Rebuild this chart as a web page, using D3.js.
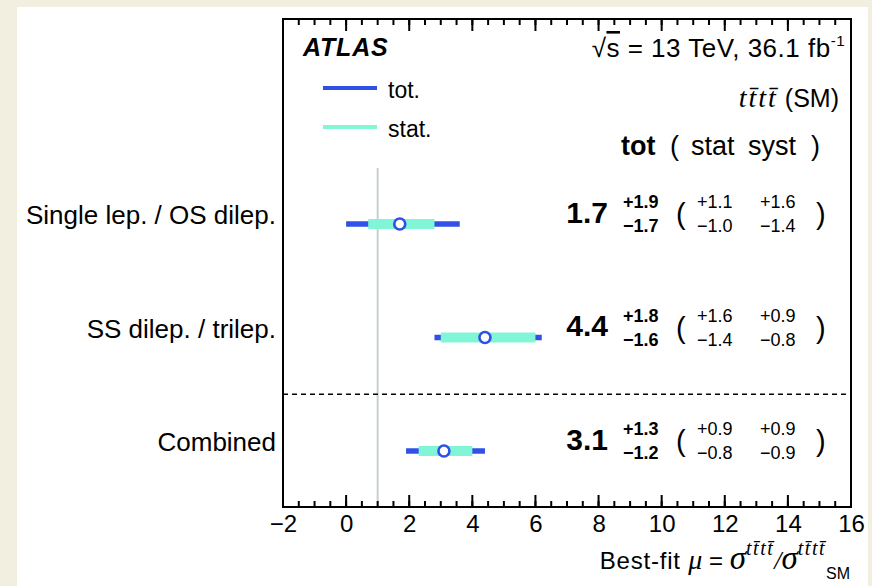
<!DOCTYPE html>
<html>
<head>
<meta charset="utf-8">
<script src="https://cdn.jsdelivr.net/npm/d3@7"></script>
<style>
  body { margin: 0; background: #f3efe0; }
  svg text { font-family: "Liberation Sans", Arial, Helvetica, sans-serif; fill: #000; }
</style>
</head>
<body>
<svg id="chart" width="872" height="586"></svg>
<script>
// data
var categories = ["Single lep. / OS dilep.", "SS dilep. / trilep.", "Combined"];
var mu = [1.7, 4.4, 3.1];
var totUp = [1.9, 1.8, 1.3];
var totDn = [1.7, 1.6, 1.2];
var statUp = [1.1, 1.6, 0.9];
var statDn = [1.0, 1.4, 0.8];
var systUp = [1.6, 0.9, 0.9];
var systDn = [1.4, 0.8, 0.9];
var majorTicks = [-2, 0, 2, 4, 6, 8, 10, 12, 14, 16];
var minorTicks = d3.range(-2, 16.01, 0.5);
var smValue = 1;

var blue = "#3050e8", aqua = "#80f6d6";

var svg = d3.select("#chart");
svg.append("rect").attr("x", 0).attr("y", 0).attr("width", 872).attr("height", 586).attr("fill", "#f3efe0");
svg.append("rect").attr("x", 17).attr("y", 7).attr("width", 851).attr("height", 579).attr("fill", "#fff");

var pl = 283, pr = 851, pt = 19, pb = 507;
var x = d3.scaleLinear().domain([-2, 16]).range([pl, pr]);
var y = d3.scaleLinear().domain([0, 2]).range([224, 451]);

var fmt = d3.format(".1f");
function signed(v, s) { return (s > 0 ? "+" : "\u2212") + fmt(v); }

// SM reference line
svg.append("line")
    .attr("x1", x(smValue)).attr("x2", x(smValue))
    .attr("y1", 168).attr("y2", pb)
    .attr("stroke", "#c8d0ce").attr("stroke-width", 2);

// separator
svg.append("line")
    .attr("x1", pl).attr("x2", pr)
    .attr("y1", y(1.5)).attr("y2", y(1.5))
    .attr("stroke", "#000").attr("stroke-width", 1.6)
    .attr("stroke-dasharray", "5,4");

// frame
svg.append("rect")
    .attr("x", pl).attr("y", pt)
    .attr("width", pr - pl).attr("height", pb - pt)
    .attr("fill", "none").attr("stroke", "#000").attr("stroke-width", 2);

// tick labels from the axis
var gB = svg.append("g").attr("transform", "translate(0," + pb + ")")
    .call(d3.axisBottom(x).tickValues(majorTicks).tickSize(0).tickFormat(d3.format("d")));
gB.select(".domain").remove();
gB.selectAll("text").attr("y", 25).attr("dy", null)
    .style("font-size", "24px").style("font-family", "Liberation Sans, Arial, sans-serif").attr("fill", "#000");

// tick marks on bottom and top edges
function tickMarks(vals, len) {
    var t = svg.append("g");
    t.selectAll("line.b").data(vals).enter().append("line")
        .attr("class", "b")
        .attr("x1", function(d) { return x(d); }).attr("x2", function(d) { return x(d); })
        .attr("y1", pb).attr("y2", pb - len)
        .style("stroke", "#000").style("stroke-width", "2px");
    t.selectAll("line.t").data(vals).enter().append("line")
        .attr("class", "t")
        .attr("x1", function(d) { return x(d); }).attr("x2", function(d) { return x(d); })
        .attr("y1", pt).attr("y2", pt + len)
        .style("stroke", "#000").style("stroke-width", "2px");
}
tickMarks(minorTicks, 6);
tickMarks(majorTicks, 12);

// rows
var rows = categories.map(function(c, i) { return i; });
var g = svg.append("g");
g.selectAll(".tot").data(rows).enter().append("line")
    .attr("x1", function(i) { return x(mu[i] - totDn[i]); })
    .attr("x2", function(i) { return x(mu[i] + totUp[i]); })
    .attr("y1", function(i) { return y(i); }).attr("y2", function(i) { return y(i); })
    .attr("stroke", blue).attr("stroke-width", 5.5);
g.selectAll(".stat").data(rows).enter().append("line")
    .attr("x1", function(i) { return x(mu[i] - statDn[i]); })
    .attr("x2", function(i) { return x(mu[i] + statUp[i]); })
    .attr("y1", function(i) { return y(i); }).attr("y2", function(i) { return y(i); })
    .attr("stroke", aqua).attr("stroke-width", 10);
g.selectAll("circle").data(rows).enter().append("circle")
    .attr("cx", function(i) { return x(mu[i]); })
    .attr("cy", function(i) { return y(i); })
    .attr("r", 5.5).attr("fill", "#fff").attr("stroke", blue).attr("stroke-width", 2.6);

// category labels
svg.selectAll(".cat").data(rows).enter().append("text")
    .attr("x", 276).attr("y", function(i) { return y(i); })
    .attr("text-anchor", "end").style("font-size", "26px")
    .text(function(i) { return categories[i]; });

// value columns
rows.forEach(function(i) {
    var yy = y(i);
    svg.append("text").attr("x", 608).attr("y", yy - 1.5).attr("text-anchor", "end")
        .style("font-size", "30px").style("font-weight", "bold").text(fmt(mu[i]));
    svg.append("text").attr("x", 623).attr("y", yy - 16).style("font-size", "18px").style("font-weight", "bold")
        .text(signed(totUp[i], 1));
    svg.append("text").attr("x", 623).attr("y", yy + 8).style("font-size", "18px").style("font-weight", "bold")
        .text(signed(totDn[i], -1));
    svg.append("text").attr("x", 676).attr("y", yy).style("font-size", "29px").text("(");
    svg.append("text").attr("x", 697).attr("y", yy - 16).style("font-size", "18px").text(signed(statUp[i], 1));
    svg.append("text").attr("x", 697).attr("y", yy + 8).style("font-size", "18px").text(signed(statDn[i], -1));
    svg.append("text").attr("x", 760).attr("y", yy - 16).style("font-size", "18px").text(signed(systUp[i], 1));
    svg.append("text").attr("x", 760).attr("y", yy + 8).style("font-size", "18px").text(signed(systDn[i], -1));
    svg.append("text").attr("x", 816).attr("y", yy).style("font-size", "29px").text(")");
});

// header texts
svg.append("text").attr("x", 303).attr("y", 56)
    .style("font-size", "25px").style("font-weight", "bold").style("font-style", "italic")
    .style("letter-spacing", "0.8px").text("ATLAS");

var rs = svg.append("text").attr("x", 845).attr("y", 57).attr("text-anchor", "end")
    .style("font-size", "26px").style("letter-spacing", "0.5px");
rs.append("tspan").text("\u221A");
rs.append("tspan").style("text-decoration", "overline").text("s");
rs.append("tspan").text(" = 13 TeV, 36.1 fb");
rs.append("tspan").attr("dy", -11).style("font-size", "15px").text("-1");

var tt = svg.append("text").attr("x", 839).attr("y", 107).attr("text-anchor", "end").style("font-size", "25px");
tt.append("tspan").style("font-family", "Liberation Serif, serif").style("font-style", "italic")
    .style("font-size", "28px").style("letter-spacing", "2px").text("tt\u0304tt\u0304");
tt.append("tspan").text(" (SM)");

var hd = svg.append("text").attr("y", 155).style("font-size", "27px");
hd.append("tspan").attr("x", 621).style("font-weight", "bold").text("tot");
hd.append("tspan").attr("x", 670).text("(");
hd.append("tspan").attr("x", 691).text("stat");
hd.append("tspan").attr("x", 748).text("syst");
hd.append("tspan").attr("x", 811).text(")");

// legend
var legend = [{ label: "tot.", color: blue, y: 88 }, { label: "stat.", color: aqua, y: 127 }];
legend.forEach(function(d) {
    svg.append("line").attr("x1", 323).attr("x2", 377).attr("y1", d.y).attr("y2", d.y)
        .attr("stroke", d.color).attr("stroke-width", 4);
    svg.append("text").attr("x", 388).attr("y", d.y + 10).style("font-size", "23px").text(d.label);
});

// x axis title
var xl = svg.append("text").attr("x", 850).attr("y", 569).attr("text-anchor", "end").style("font-size", "24px");
var serifIt = "font-family: 'Liberation Serif', serif; font-style: italic;";
xl.append("tspan").style("letter-spacing", "0.8px").text("Best-fit ");
xl.append("tspan").attr("style", serifIt + "font-size:28px").text("\u03BC");
xl.append("tspan").text(" = ");
xl.append("tspan").attr("style", serifIt + "font-size:33px").text("\u03C3");
xl.append("tspan").attr("dy", -14).attr("style", serifIt + "font-size:20px;letter-spacing:1.5px").text("tt\u0304tt\u0304");
xl.append("tspan").attr("dy", 14).attr("style", serifIt + "font-size:26px").text("/");
xl.append("tspan").attr("style", serifIt + "font-size:33px").text("\u03C3");
xl.append("tspan").attr("dy", -14).attr("style", serifIt + "font-size:20px;letter-spacing:1.5px").text("tt\u0304tt\u0304");
xl.append("tspan").attr("dy", 24).style("font-size", "16px").text("SM");
</script>
</body>
</html>
